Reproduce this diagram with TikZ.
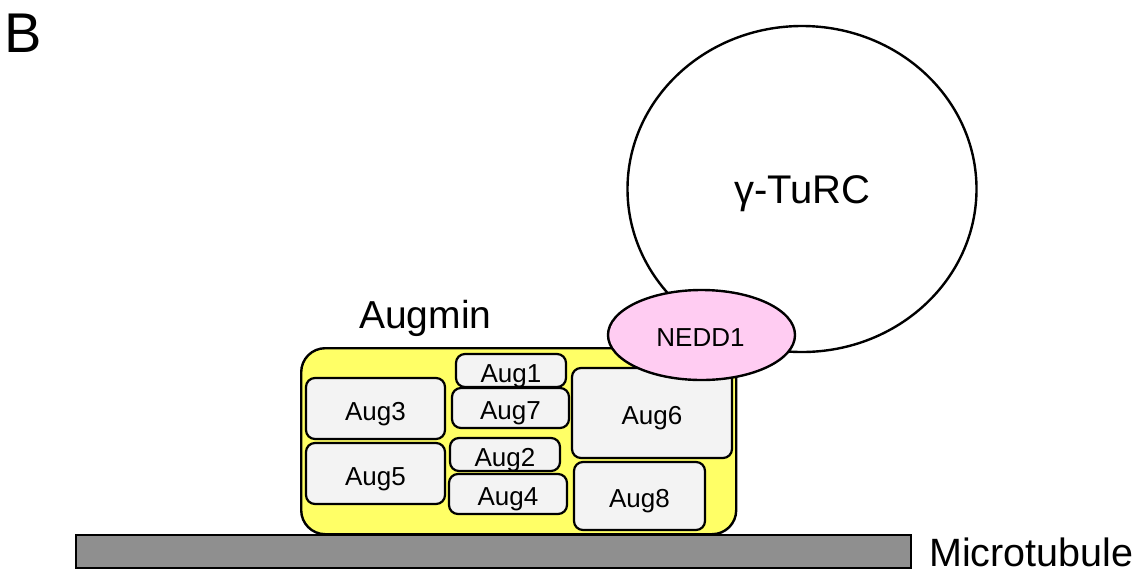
\documentclass[tikz,border=0pt]{standalone}
\usepackage{fontspec}
\setmainfont{Liberation Sans}
\usetikzlibrary{shapes.geometric}
\definecolor{augyellow}{RGB}{255,255,102}
\definecolor{subgray}{RGB}{243,243,243}
\definecolor{neddpink}{RGB}{255,204,242}
\definecolor{mtgray}{RGB}{143,143,143}
\tikzset{
  % a tall text box with no depth lets each label sit slightly below the box centre
  subunit/.style={draw=black, line width=2.2pt, fill=subgray, rounded corners=9pt,
    inner sep=0pt, text height=23.6pt, text depth=0pt, font=\fontsize{26}{30}\selectfont},
  outline/.style={draw=black, line width=2.4pt},
  label text/.style={inner sep=0pt},
}
\begin{document}
\begin{tikzpicture}[x=1pt, y=-1pt]
\useasboundingbox (0,0) rectangle (1143,571);
% panel letter
\node[label text, anchor=base west, font=\fontsize{56}{60}\selectfont] (panel) at (4,52) {B};
% gamma-TuRC ring
\node[outline, fill=white, ellipse, minimum width=349pt, minimum height=326pt, inner sep=0pt] (turc) at (802,189) {};
\node[label text, anchor=base, font=\fontsize{40}{44}\selectfont] (turclabel) at (802.5,203) {γ-TuRC};
% microtubule
\node[draw=black, line width=2pt, fill=mtgray, minimum width=835pt, minimum height=33pt, inner sep=0pt, anchor=north west] (mt) at (75,534) {};
\node[label text, anchor=base west, font=\fontsize{39.5}{44}\selectfont] (mtlabel) at (929,566) {Microtubule};
% augmin complex
\node[outline, fill=augyellow, rounded corners=24pt, minimum width=435pt, minimum height=186pt, inner sep=0pt, anchor=north west] (augmin) at (300,347) {};
\node[label text, anchor=base west, font=\fontsize{39}{42}\selectfont] (auglabel) at (359,328) {Augmin};
% subunits
\node[subunit, minimum width=139pt, minimum height=61pt] (aug3) at (375.5,408.5) {Aug3};
\node[subunit, minimum width=139pt, minimum height=61pt] (aug5) at (375.5,473.5) {Aug5};
\node[subunit, minimum width=110pt, minimum height=33pt] (aug1) at (511,370.5) {Aug1};
\node[subunit, minimum width=117pt, minimum height=40pt] (aug7) at (510.5,408) {Aug7};
\node[subunit, minimum width=110pt, minimum height=33pt] (aug2) at (505,454.5) {Aug2};
\node[subunit, minimum width=118pt, minimum height=40pt] (aug4) at (508,494) {Aug4};
\node[subunit, minimum width=160pt, minimum height=90pt] (aug6) at (652,413) {Aug6};
\node[subunit, minimum width=131pt, minimum height=68pt] (aug8) at (639.5,496) {Aug8};
% NEDD1 adaptor
\node[outline, fill=neddpink, ellipse, minimum width=187pt, minimum height=90pt, inner sep=0pt] (nedd1) at (701.5,335) {};
\node[label text, anchor=base, font=\fontsize{26}{30}\selectfont] (neddlabel) at (700.5,346) {NEDD1};
\end{tikzpicture}
\end{document}
